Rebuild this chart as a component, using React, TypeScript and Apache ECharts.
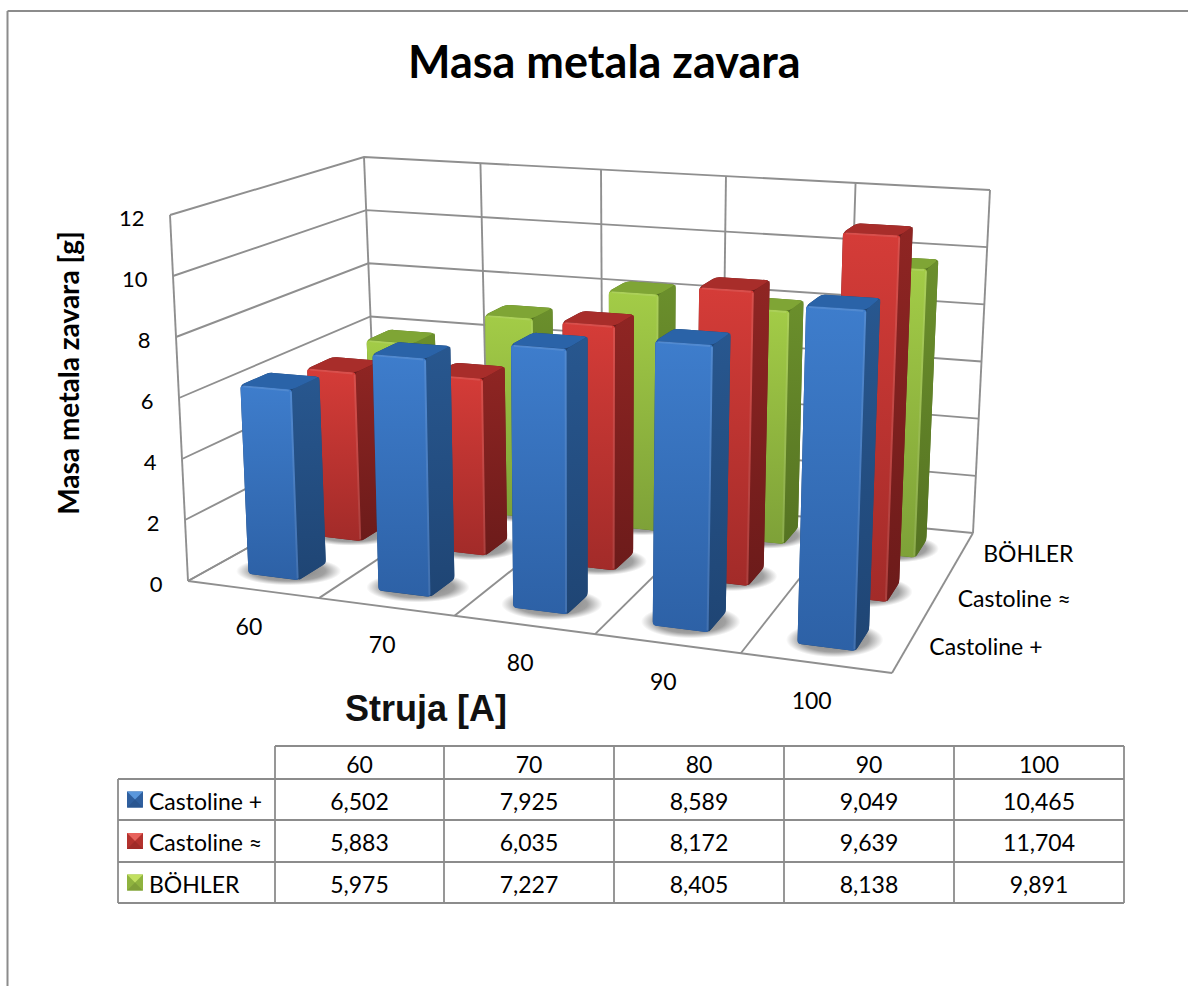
import React, { useEffect, useRef } from "react";
import * as echarts from "echarts";

const titleText = "Masa metala zavara";
const yAxisTitle = "Masa metala zavara [g]";
const xAxisTitle = "Struja [A]";
const categories = ["60", "70", "80", "90", "100"];
const seriesNames = ["Castoline +", "Castoline ≈", "BÖHLER"];
const castolinePlus = [6.502, 7.925, 8.589, 9.049, 10.465];
const castolineApprox = [5.883, 6.035, 8.172, 9.639, 11.704];
const bohler = [5.975, 7.227, 8.405, 8.138, 9.891];
const rows = [castolinePlus, castolineApprox, bohler];
const yTicks = [0, 2, 4, 6, 8, 10, 12];

const W = 1188;
const H = 986;
const FONT = "Lato";
const GRID = "#8f8f8f";
const BLACK = "#000000";

// Box corners on the page (projection frame of the 3D walls)
const FL: number[] = [188, 581];
const FR: number[] = [892, 673];
const BR: number[] = [973, 533];
const BL: number[] = [377, 476];
const TFL: number[] = [170, 215];
const TFR: number[] = [907, 252];
const TBR: number[] = [990, 190];
const TBL: number[] = [364, 157];

// foreshortening along the category axis and the depth axis
const U_PERSP = 0.914;
const V_PERSP = 1.17;
const warp = (s: number, k: number) => (s * k) / (1 + (k - 1) * s);
const lerp = (a: number[], b: number[], s: number) => [a[0] + (b[0] - a[0]) * s, a[1] + (b[1] - a[1]) * s];

// u: 0..1 along categories, t: 0..1 along the value axis, v: 0..1 in depth
function project(u: number, t: number, v: number) {
  const a = warp(u, U_PERSP);
  const b = warp(v, V_PERSP);
  const floor = lerp(lerp(FL, FR, a), lerp(BL, BR, a), b);
  const top = lerp(lerp(TFL, TFR, a), lerp(TBL, TBR, a), b);
  return lerp(floor, top, t);
}

const GRID_L = 0, GRID_T = 0, GRID_W = 1000, GRID_H = 900;
const BAR_START = 0.305;
const BAR_WIDTH = 0.39;
const DEPTH_START = 0.3;
const DEPTH_SIZE = 0.42;
const ROW_HEIGHT_SCALE = [0.958, 0.985, 0.98];

function roundPoly(pts: number[][], r: number) {
  const n = pts.length;
  let d = "";
  for (let i = 0; i < n; i++) {
    const p = pts[i], a = pts[(i + n - 1) % n], b = pts[(i + 1) % n];
    const la = Math.hypot(a[0] - p[0], a[1] - p[1]) || 1;
    const lb = Math.hypot(b[0] - p[0], b[1] - p[1]) || 1;
    const ra = Math.min(r, la / 2), rb = Math.min(r, lb / 2);
    const s = [p[0] + ((a[0] - p[0]) / la) * ra, p[1] + ((a[1] - p[1]) / la) * ra];
    const e = [p[0] + ((b[0] - p[0]) / lb) * rb, p[1] + ((b[1] - p[1]) / lb) * rb];
    d += (i === 0 ? "M" : "L") + s[0].toFixed(2) + " " + s[1].toFixed(2);
    d += "Q" + p[0].toFixed(2) + " " + p[1].toFixed(2) + " " + e[0].toFixed(2) + " " + e[1].toFixed(2);
  }
  return d + "Z";
}

const grad = (c0: string, c1: string) =>
  new echarts.graphic.LinearGradient(0, 0, 0, 1, [
    { offset: 0, color: c0 },
    { offset: 1, color: c1 },
  ]);

const palettes = [
  { front: ["#3e7dcc", "#2d61a6"], side: ["#28578f", "#1f4574"], top: "#2a63a8", key: ["#5a97dc", "#2f5f9e", "#2a5690"] },
  { front: ["#d53c38", "#a22b29"], side: ["#8f2523", "#6c1b1a"], top: "#a82d2a", key: ["#e8625c", "#b3322e", "#a02b28"] },
  { front: ["#a3cc47", "#7ea138"], side: ["#6b8f2c", "#557322"], top: "#7fa535", key: ["#c2e060", "#8fb33f", "#7f9f38"] },
];

function barExtent(api: any, row: number) {
  const c = api.coord([api.value(0), api.value(1)]);
  const band = api.size([1, 0])[0] / GRID_W;
  const center = (c[0] - GRID_L) / GRID_W;
  const t = (1 - (c[1] - GRID_T) / GRID_H) * ROW_HEIGHT_SCALE[row];
  const u0 = center - band * 0.5 + band * BAR_START;
  const u1 = u0 + band * BAR_WIDTH;
  const v0 = (row + DEPTH_START) / rows.length;
  const v1 = (row + DEPTH_START + DEPTH_SIZE) / rows.length;
  return { u0, u1, v0, v1, t };
}

function renderShadow(row: number) {
  return (_p: any, api: any) => {
    const { u0, u1, v0, v1 } = barExtent(api, row);
    const pts = [project(u0, 0, v0), project(u1, 0, v0), project(u1, 0, v1), project(u0, 0, v1)];
    const xs = pts.map((p) => p[0]);
    const ys = pts.map((p) => p[1]);
    const x0 = Math.min(...xs), x1 = Math.max(...xs), y0 = Math.min(...ys), y1 = Math.max(...ys);
    const w = x1 - x0, h = y1 - y0;
    return {
      type: "rect",
      shape: { x: x0 - w * 0.16, y: y0 - h * 0.02, width: w * 1.36, height: h * 1.24 },
      style: {
        fill: new echarts.graphic.RadialGradient(0.5, 0.5, 0.5, [
          { offset: 0, color: "rgba(30,30,30,0.6)" },
          { offset: 0.7, color: "rgba(30,30,30,0.42)" },
          { offset: 1, color: "rgba(30,30,30,0)" },
        ]),
      },
    };
  };
}

function renderBar(row: number) {
  const pal = palettes[row];
  return (_p: any, api: any) => {
    const { u0, u1, v0, v1, t } = barExtent(api, row);
    const fbl = project(u0, 0, v0), fbr = project(u1, 0, v0), bbr = project(u1, 0, v1);
    const ftl = project(u0, t, v0), ftr = project(u1, t, v0), btr = project(u1, t, v1), btl = project(u0, t, v1);
    return {
      type: "group",
      children: [
        { type: "path", shape: { pathData: roundPoly([fbl, ftl, btl, btr, bbr, fbr], 4) }, style: { fill: pal.side[1] } },
        { type: "path", shape: { pathData: roundPoly([fbr, ftr, btr, bbr], 2) }, style: { fill: grad(pal.side[0], pal.side[1]) } },
        { type: "path", shape: { pathData: roundPoly([ftl, btl, btr, ftr], 4) }, style: { fill: pal.top } },
        { type: "path", shape: { pathData: roundPoly([fbl, ftl, ftr, fbr], 3) }, style: { fill: grad(pal.front[0], pal.front[1]) } },
        { type: "polyline", shape: { points: [[ftr[0] - 1, ftr[1] + 2], [fbr[0] - 1, fbr[1] - 2]] }, style: { fill: "none", stroke: "rgba(255,255,255,0.1)", lineWidth: 2 } },
        { type: "polyline", shape: { points: [[ftl[0] + 3, ftl[1] + 1], [ftr[0] - 3, ftr[1] + 1]] }, style: { fill: "none", stroke: "rgba(255,255,255,0.1)", lineWidth: 2 } },
      ],
    };
  };
}

function renderWalls(_p: any, api: any) {
  const tick = api.value(0);
  const c = api.coord([0, tick]);
  const t = 1 - (c[1] - GRID_T) / GRID_H;
  const line = (pts: number[][]) => ({
    type: "polyline",
    shape: { points: pts },
    style: { fill: "none", stroke: GRID, lineWidth: 1.9 },
  });
  return {
    type: "group",
    children: [line([project(0, t, 0), project(0, t, 1), project(1, t, 1)])],
  };
}

function renderFrame(_p: any, api: any) {
  const i = api.value(0);
  const n = categories.length;
  const u = i / n;
  const line = (pts: number[][]) => ({
    type: "polyline",
    shape: { points: pts },
    style: { fill: "none", stroke: GRID, lineWidth: 1.9 },
  });
  const children: any[] = [line([project(u, 0, 0), project(u, 0, 1)])];
  children.push(line([project(u, 0, 1), project(u, 1, 1)]));
  if (i === 0) children.push(line([project(0, 0, 0), project(0, 1, 0)]));
  if (i === 0) children.push(line([project(0, 0, 0), project(1, 0, 0)]));
  return { type: "group", children };
}

// Table geometry
const colX = [118, 275, 444, 614, 784, 954, 1124];
const rowY = [746, 779, 820, 862, 903];

function buildGraphics() {
  const els: any[] = [];
  const text = (t: string, x: number, y: number, align: string, size = 23, extra: any = {}) =>
    els.push({
      type: "text",
      x,
      y,
      style: { text: t, fill: BLACK, font: `${size}px ${FONT}`, textAlign: align, textVerticalAlign: "middle", ...extra },
    });
  const seg = (x1: number, y1: number, x2: number, y2: number) =>
    els.push({ type: "line", shape: { x1, y1, x2, y2 }, style: { stroke: "#8c8c8c", lineWidth: 1.8 } });

  // outer frame: only top and left edges reach into the picture
  els.push({ type: "line", shape: { x1: 7.5, y1: 11, x2: 1188, y2: 11 }, style: { stroke: "#8c8c8c", lineWidth: 2 } });
  els.push({ type: "line", shape: { x1: 7.5, y1: 11, x2: 7.5, y2: 986 }, style: { stroke: "#8c8c8c", lineWidth: 2 } });

  yTicks.forEach((v) => {
    const p = project(0, v / 12, 0);
    text(String(v), p[0] - 25.5, p[1] + 2, "right", 22);
  });
  categories.forEach((c, i) => {
    const p = project((i + 0.5) / categories.length, 0, 0);
    text(c, p[0] - 4, p[1] + 37, "center");
  });
  seriesNames.forEach((s, i) => {
    const p = project(1, 0, (i + 0.5) / seriesNames.length);
    text(s, p[0] + 22, p[1], "left");
  });

  els.push({
    type: "text",
    x: 68,
    y: 373,
    rotation: Math.PI / 2,
    style: { text: yAxisTitle, fill: BLACK, font: `bold 28px ${FONT}`, textAlign: "center", textVerticalAlign: "middle" },
  });
  els.push({
    type: "text",
    x: 426,
    y: 708,
    style: {
      text: xAxisTitle,
      fill: "#111111",
      font: "bold 36px 'Liberation Sans'",
      textAlign: "center",
      textVerticalAlign: "middle",
    },
  });

  // data table
  seg(colX[1], rowY[0], colX[6], rowY[0]);
  for (let r = 1; r < rowY.length; r++) seg(colX[0], rowY[r], colX[6], rowY[r]);
  seg(colX[0], rowY[1], colX[0], rowY[4]);
  for (let c = 1; c < colX.length; c++) seg(colX[c], rowY[0], colX[c], rowY[4]);

  categories.forEach((c, i) => text(c, (colX[i + 1] + colX[i + 2]) / 2, (rowY[0] + rowY[1]) / 2 + 1, "center"));
  seriesNames.forEach((s, r) => {
    const cy = (rowY[r + 1] + rowY[r + 2]) / 2;
    const x = 127, y = cy - 8, k = 16;
    const pal = palettes[r].key;
    els.push({ type: "rect", shape: { x, y, width: k, height: k }, style: { fill: pal[1] } });
    els.push({ type: "polygon", shape: { points: [[x, y], [x + k, y], [x + k / 2, y + k / 2]] }, style: { fill: pal[0] } });
    els.push({ type: "polygon", shape: { points: [[x, y + k], [x + k, y + k], [x + k / 2, y + k / 2]] }, style: { fill: pal[2] } });
    text(s, 149, cy + 1, "left");
    rows[r].forEach((v, i) => {
      text(v.toFixed(3).replace(".", ","), (colX[i + 1] + colX[i + 2]) / 2, cy + 1, "center");
    });
  });
  return els;
}

export default function App() {
  const ref = useRef<HTMLDivElement>(null);
  useEffect(() => {
    const chart = echarts.init(ref.current!, null, { renderer: "svg" });
    const order = [2, 1, 0];
    chart.setOption({
      animation: false,
      backgroundColor: "#ffffff",
      title: {
        text: titleText,
        left: 403,
        top: 33,
        textStyle: { fontFamily: FONT, fontWeight: "bold", fontSize: 45, color: BLACK },
      },
      grid: { left: GRID_L, top: GRID_T, width: GRID_W, height: GRID_H },
      xAxis: { type: "category", data: categories, show: false },
      yAxis: { type: "value", min: 0, max: 12, interval: 2, show: false },
      graphic: { elements: buildGraphics() },
      series: [
        {
          type: "custom",
          name: "walls",
          clip: false,
          silent: true,
          renderItem: renderWalls,
          data: yTicks.map((v) => [v]),
          encode: { x: -1, y: 0 },
        },
        {
          type: "custom",
          name: "frame",
          clip: false,
          silent: true,
          renderItem: renderFrame,
          data: [0, 1, 2, 3, 4, 5].map((v) => [v]),
          encode: { x: -1, y: -1 },
        },
        ...order.map((row) => ({
          type: "custom",
          name: seriesNames[row] + " shadow",
          clip: false,
          silent: true,
          renderItem: renderShadow(row),
          data: rows[row].map((v, i) => [i, v]),
          encode: { x: 0, y: 1 },
        })),
        ...order.map((row) => ({
          type: "custom",
          name: seriesNames[row],
          clip: false,
          silent: true,
          renderItem: renderBar(row),
          data: rows[row].map((v, i) => [i, v]),
          encode: { x: 0, y: 1 },
        })),
      ],
    });
    return () => chart.dispose();
  }, []);
  return <div ref={ref} style={{ position: "absolute", left: 0, top: 0, width: W, height: H }} />;
}
